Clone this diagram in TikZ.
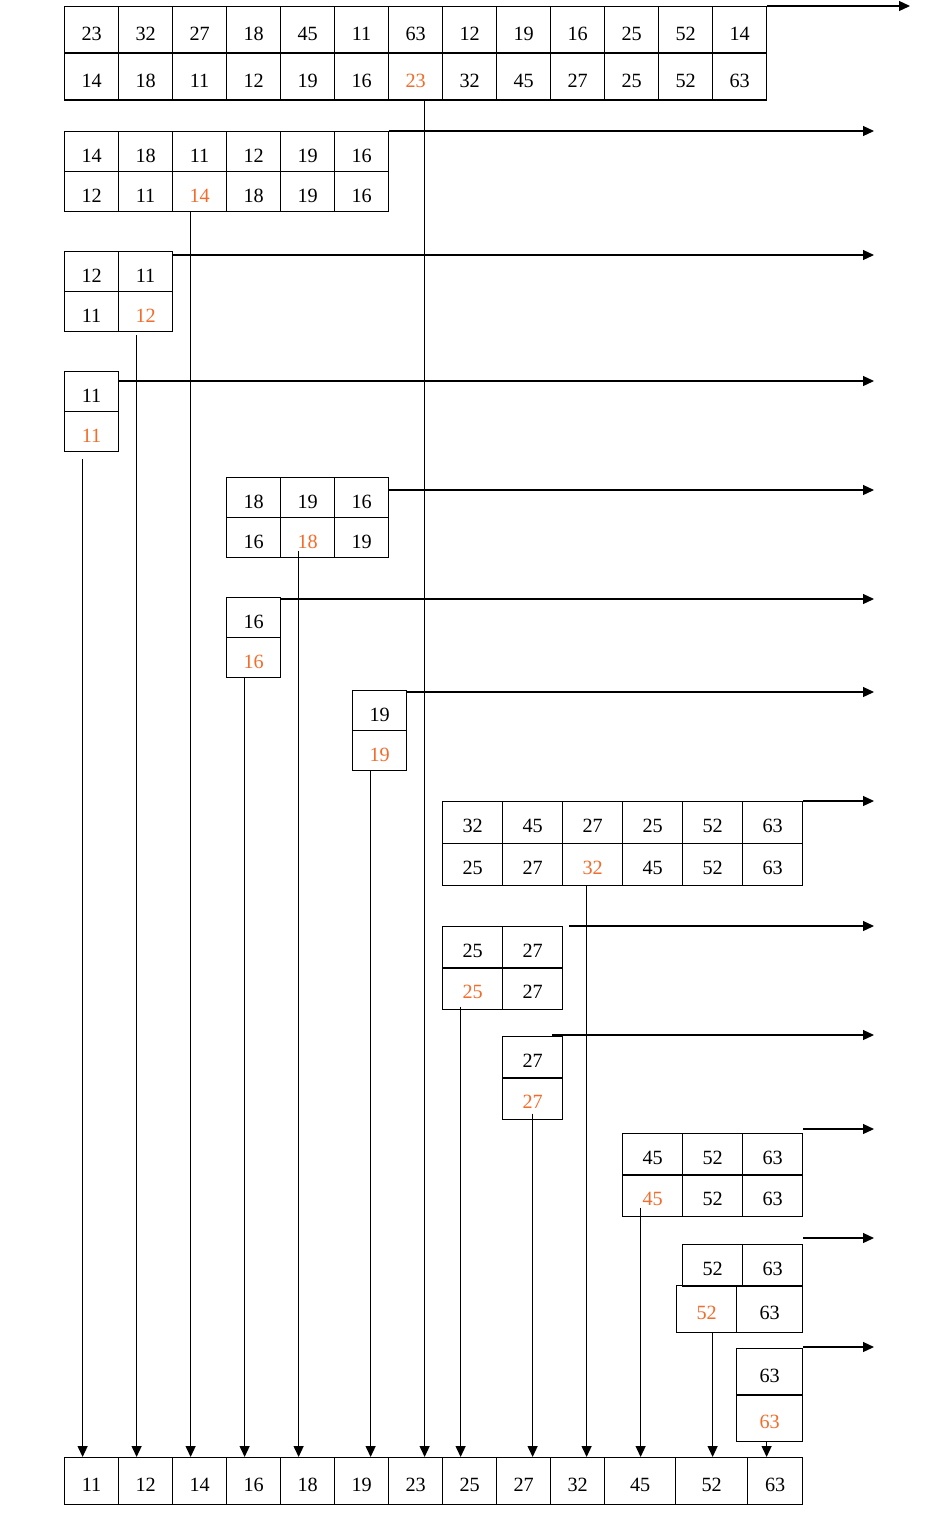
\documentclass[tikz,border=0pt]{standalone}
\usepackage{fontspec}
\setmainfont{Liberation Serif}
\usetikzlibrary{arrows.meta,calc}
\definecolor{pivotorange}{RGB}{242,108,44}
\newcommand{\pv}[1]{\textcolor{pivotorange}{#1}}

\begin{document}
\begin{tikzpicture}[
    x=0.02cm, y=-0.02cm,
    line width=0.7pt,
    font=\fontsize{11.5}{13}\selectfont,
    cell/.style={draw, rectangle, anchor=north west, inner sep=0pt, text height=12pt, text depth=0pt,
        minimum width=1.08cm, minimum height=0.8cm},
    wide/.style={minimum width=1.2cm, minimum height=0.83cm},
    tall/.style={minimum height=0.93cm},
    arrow/.style={-{Triangle[length=0.22cm, width=0.2cm]}}
]
\useasboundingbox (0,0) rectangle (932,1522);

% Whole list
\foreach \v [count=\i from 0] in {23,32,27,18,45,11,63,12,19,16,25,52,14}
    \node[cell, tall] (p1t-\i) at (64+54*\i, 6) {\v};
\foreach \v [count=\i from 0] in {14,18,11,12,19,16,\pv{23},32,45,27,25,52,63}
    \node[cell, tall] (p1b-\i) at (64+54*\i, 53) {\v};

% Left part of 23
\foreach \v [count=\i from 0] in {14,18,11,12,19,16}
    \node[cell] (p2t-\i) at (64+54*\i, 131) {\v};
\foreach \v [count=\i from 0] in {12,11,\pv{14},18,19,16}
    \node[cell] (p2b-\i) at (64+54*\i, 171) {\v};

% Left part of 14
\foreach \v [count=\i from 0] in {12,11}
    \node[cell] (p3t-\i) at (64+54*\i, 251) {\v};
\foreach \v [count=\i from 0] in {11,\pv{12}}
    \node[cell] (p3b-\i) at (64+54*\i, 291) {\v};

% Left part of 12
\node[cell] (p4t-0) at (64, 371) {11};
\node[cell] (p4b-0) at (64, 411) {\pv{11}};

% Right part of 14
\foreach \v [count=\i from 0] in {18,19,16}
    \node[cell] (p5t-\i) at (226+54*\i, 477) {\v};
\foreach \v [count=\i from 0] in {16,\pv{18},19}
    \node[cell] (p5b-\i) at (226+54*\i, 517) {\v};

% Left and right parts of 18
\node[cell] (p6t-0) at (226, 597) {16};
\node[cell] (p6b-0) at (226, 637) {\pv{16}};
\node[cell] (p7t-0) at (352, 690) {19};
\node[cell] (p7b-0) at (352, 730) {\pv{19}};

% Right part of 23
\foreach \v [count=\i from 0] in {32,45,27,25,52,63}
    \node[cell, wide] (p8t-\i) at (442+60*\i, 801) {\v};
\foreach \v [count=\i from 0] in {25,27,\pv{32},45,52,63}
    \node[cell, wide] (p8b-\i) at (442+60*\i, 843) {\v};

% Left part of 32
\foreach \v [count=\i from 0] in {25,27}
    \node[cell, wide] (p9t-\i) at (442+60*\i, 926) {\v};
\foreach \v [count=\i from 0] in {\pv{25},27}
    \node[cell, wide] (p9b-\i) at (442+60*\i, 967) {\v};
\node[cell, wide] (p10t-0) at (502, 1036) {27};
\node[cell, wide] (p10b-0) at (502, 1077) {\pv{27}};

% Right part of 32
\foreach \v [count=\i from 0] in {45,52,63}
    \node[cell, wide] (p11t-\i) at (622+60*\i, 1133) {\v};
\foreach \v [count=\i from 0] in {\pv{45},52,63}
    \node[cell, wide] (p11b-\i) at (622+60*\i, 1174) {\v};
\foreach \v [count=\i from 0] in {52,63}
    \node[cell, wide] (p12t-\i) at (682+60*\i, 1244) {\v};
\node[cell, wide, tall] (p12b-0) at (676, 1285) {\pv{52}};
\node[cell, tall, minimum width=1.32cm] (p12b-1) at (736, 1285) {63};
\node[cell, tall, minimum width=1.32cm] (p13t-0) at (736, 1348) {63};
\node[cell, tall, minimum width=1.32cm] (p13b-0) at (736, 1394) {\pv{63}};

% Sorted list
\foreach \v [count=\i from 0] in {11,12,14,16,18,19,23,25,27,32}
    \node[cell, tall] (s-\i) at (64+54*\i, 1457) {\v};
\node[cell, tall, minimum width=1.42cm] (s-10) at (604, 1457) {45};
\node[cell, tall, minimum width=1.44cm] (s-11) at (675, 1457) {52};
\node[cell, tall, minimum width=1.1cm] (s-12) at (747, 1457) {63};

% Arrows to the right
\coordinate (edge1) at (910, 0);
\coordinate (edge) at (874, 0);
\draw[arrow] (p1t-12.north east) -- (p1t-12.north east -| edge1);
\foreach \n/\dx/\dy in {p2t-5/0/0, p3t-1/0/4, p4t-0/0/10, p5t-2/0/13, p6t-0/0/2, p7t-0/0/2,
        p8t-5/0/0, p9t-1/6/0, p10t-0/-11/-1, p11t-2/0/-4, p12t-1/0/-6, p13t-0/0/-1} {
    \coordinate (r) at ($(\n.north east)+(\dx,\dy)$);
    \draw[arrow] (r) -- (r -| edge);
}

% Arrows down to the sorted list
\foreach \p/\dx/\dy/\t in {p1b-6/9/0/s-6, p2b-2/-9/0/s-2, p3b-1/-9/3/s-1, p4b-0/-9/7/s-0,
        p5b-1/-9/-7/s-4, p6b-0/-9/0/s-3, p7b-0/-9/0/s-5, p8b-2/-6/0/s-9, p9b-0/-12/-3/s-7,
        p10b-0/0/-6/s-8, p11b-0/-12/-9/s-10, p12b-0/6/0/s-11, p13b-0/-3/0/s-12} {
    \coordinate (d) at ($(\p.south)+(\dx,\dy)$);
    \draw[arrow] (d) -- (d |- \t.north);
}

\end{tikzpicture}
\end{document}
